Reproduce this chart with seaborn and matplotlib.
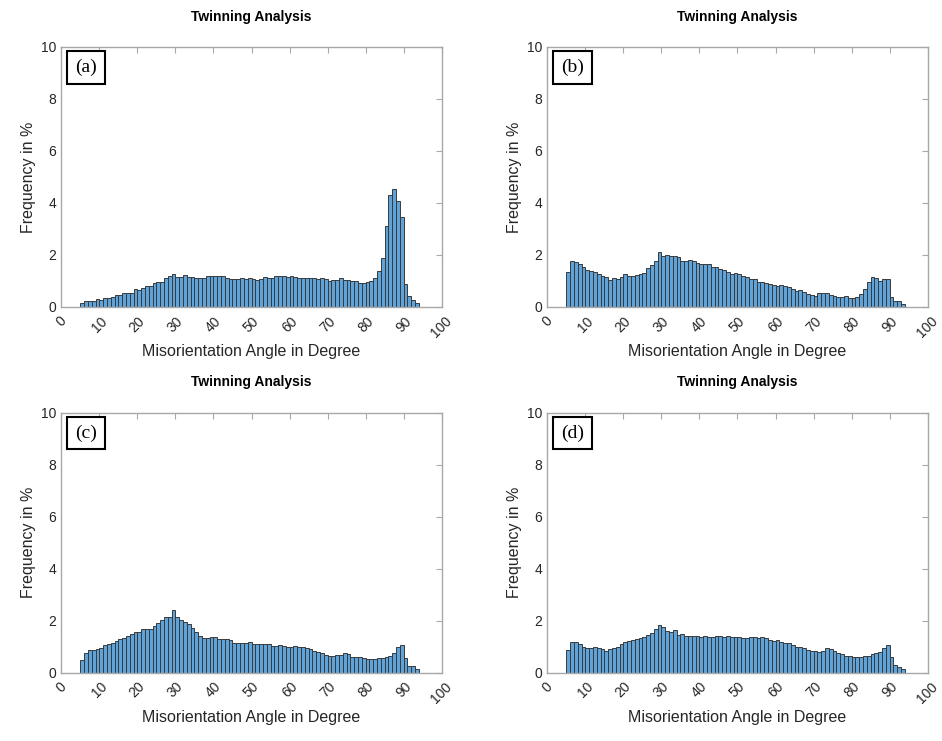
import numpy as np
import pandas as pd
import matplotlib
matplotlib.use('Agg')
import matplotlib.pyplot as plt
import seaborn as sns

# ── Data: frequency (%) per 1-degree bin, bins from 5 to 94 degrees ──────────
bin_edges = list(range(5, 95))
bin_centers = [e + 0.5 for e in bin_edges[:-1]]

freq_a = [0.14, 0.22, 0.24, 0.24, 0.31, 0.26, 0.36, 0.36, 0.37, 0.47,
          0.47, 0.54, 0.54, 0.53, 0.68, 0.65, 0.73, 0.82, 0.82, 0.91,
          0.97, 0.97, 1.12, 1.19, 1.26, 1.14, 1.14, 1.22, 1.17, 1.14,
          1.13, 1.12, 1.13, 1.21, 1.19, 1.18, 1.19, 1.18, 1.13, 1.06,
          1.06, 1.06, 1.10, 1.06, 1.12, 1.08, 1.04, 1.08, 1.14, 1.12,
          1.10, 1.19, 1.19, 1.21, 1.15, 1.19, 1.15, 1.10, 1.12, 1.12,
          1.10, 1.10, 1.09, 1.10, 1.08, 1.01, 1.05, 1.04, 1.10, 1.05,
          1.03, 1.01, 0.99, 0.92, 0.92, 0.97, 1.00, 1.10, 1.37, 1.90,
          3.12, 4.31, 4.54, 4.06, 3.46, 0.88, 0.44, 0.26, 0.14]

freq_b = [1.35, 1.78, 1.74, 1.65, 1.53, 1.42, 1.38, 1.33, 1.26, 1.18,
          1.17, 1.04, 1.10, 1.08, 1.17, 1.26, 1.19, 1.21, 1.24, 1.28,
          1.31, 1.51, 1.63, 1.78, 2.12, 1.95, 1.99, 1.97, 1.97, 1.91,
          1.78, 1.78, 1.82, 1.76, 1.69, 1.67, 1.65, 1.64, 1.54, 1.54,
          1.46, 1.42, 1.33, 1.28, 1.31, 1.25, 1.18, 1.15, 1.09, 1.06,
          0.97, 0.96, 0.92, 0.88, 0.83, 0.82, 0.86, 0.81, 0.78, 0.69,
          0.63, 0.65, 0.58, 0.50, 0.46, 0.44, 0.54, 0.53, 0.55, 0.47,
          0.44, 0.40, 0.37, 0.41, 0.33, 0.33, 0.40, 0.49, 0.68, 0.97,
          1.14, 1.12, 1.01, 1.09, 1.08, 0.37, 0.22, 0.24, 0.12]

freq_c = [0.50, 0.77, 0.87, 0.86, 0.91, 0.95, 1.06, 1.10, 1.13, 1.22,
          1.28, 1.35, 1.41, 1.47, 1.56, 1.56, 1.69, 1.68, 1.68, 1.81,
          1.92, 2.03, 2.13, 2.15, 2.42, 2.13, 2.03, 1.96, 1.87, 1.71,
          1.55, 1.42, 1.32, 1.32, 1.38, 1.36, 1.31, 1.29, 1.28, 1.26,
          1.14, 1.13, 1.14, 1.14, 1.18, 1.12, 1.09, 1.09, 1.09, 1.12,
          1.01, 1.01, 1.06, 1.01, 0.99, 0.99, 1.01, 0.99, 0.97, 0.94,
          0.92, 0.85, 0.81, 0.74, 0.68, 0.65, 0.64, 0.68, 0.68, 0.77,
          0.71, 0.62, 0.59, 0.59, 0.56, 0.52, 0.52, 0.52, 0.55, 0.58,
          0.62, 0.66, 0.75, 0.97, 1.08, 0.56, 0.27, 0.26, 0.14]

freq_d = [0.88, 1.19, 1.17, 1.09, 0.97, 0.95, 0.95, 1.00, 0.96, 0.92,
          0.85, 0.91, 0.96, 0.99, 1.12, 1.18, 1.21, 1.24, 1.31, 1.32,
          1.38, 1.45, 1.53, 1.67, 1.85, 1.76, 1.60, 1.56, 1.64, 1.46,
          1.49, 1.42, 1.42, 1.41, 1.41, 1.37, 1.41, 1.39, 1.39, 1.40,
          1.40, 1.39, 1.40, 1.38, 1.38, 1.37, 1.35, 1.35, 1.38, 1.37,
          1.32, 1.36, 1.35, 1.27, 1.21, 1.24, 1.17, 1.14, 1.13, 1.06,
          1.00, 0.97, 0.94, 0.87, 0.85, 0.83, 0.81, 0.82, 0.94, 0.92,
          0.85, 0.77, 0.72, 0.64, 0.64, 0.62, 0.62, 0.62, 0.63, 0.65,
          0.72, 0.77, 0.80, 0.94, 1.08, 0.59, 0.31, 0.22, 0.13]

panel_labels = ['(a)', '(b)', '(c)', '(d)']
panel_freqs = [freq_a, freq_b, freq_c, freq_d]
x_ticks = list(range(0, 101, 10))
y_ticks = list(range(0, 11, 2))

# ── Style ────────────────────────────────────────────────────────────────────
sns.set_style('white')
plt.rcParams['font.family'] = ['Liberation Sans', 'DejaVu Sans']

axis_grey = '#a8a8a8'
text_grey = '#262626'
bar_fill = '#5ea3d9'

fig = plt.figure(figsize=(9.42, 7.41), dpi=100)

# axes positions in figure fractions (left, bottom, width, height)
positions = [
    (0.0651, 0.5857, 0.4038, 0.3509),
    (0.5810, 0.5857, 0.4038, 0.3509),
    (0.0651, 0.0922, 0.4038, 0.3509),
    (0.5810, 0.0922, 0.4038, 0.3509),
]

for pos, label, freq in zip(positions, panel_labels, panel_freqs):
    ax = fig.add_axes(pos)
    df = pd.DataFrame({'angle': bin_centers, 'freq': freq})
    sns.histplot(data=df, x='angle', weights='freq', bins=bin_edges, ax=ax,
                 color=bar_fill, edgecolor='#3a3a3a', linewidth=0.7,
                 alpha=1.0)

    ax.set_xlim(0, 100)
    ax.set_ylim(0, 10)
    ax.set_xticks(x_ticks)
    ax.set_yticks(y_ticks)
    ax.set_xticklabels([str(t) for t in x_ticks], rotation=45, ha='center')

    for side in ['top', 'right', 'bottom', 'left']:
        ax.spines[side].set_visible(True)
        ax.spines[side].set_color(axis_grey)
        ax.spines[side].set_linewidth(1.0)
    ax.tick_params(direction='in', length=4, width=0.8, color=axis_grey,
                   top=True, right=True, labelsize=10, labelcolor=text_grey)
    ax.tick_params(axis='x', pad=5)

    ax.set_xlabel('Misorientation Angle in Degree', fontsize=11.5,
                  color=text_grey, labelpad=3)
    ax.set_ylabel('Frequency in %', fontsize=11.5, color=text_grey)
    ax.set_title('Twinning Analysis', fontsize=10, fontweight='bold',
                 color='black', pad=19)

    ax.text(0.036, 0.955, label, transform=ax.transAxes, ha='left', va='top',
            fontsize=14, family=['Liberation Serif', 'DejaVu Serif'],
            color='black',
            bbox=dict(boxstyle='square,pad=0.4', fc='white', ec='black', lw=1.5))

plt.savefig('out.png', dpi=100)
